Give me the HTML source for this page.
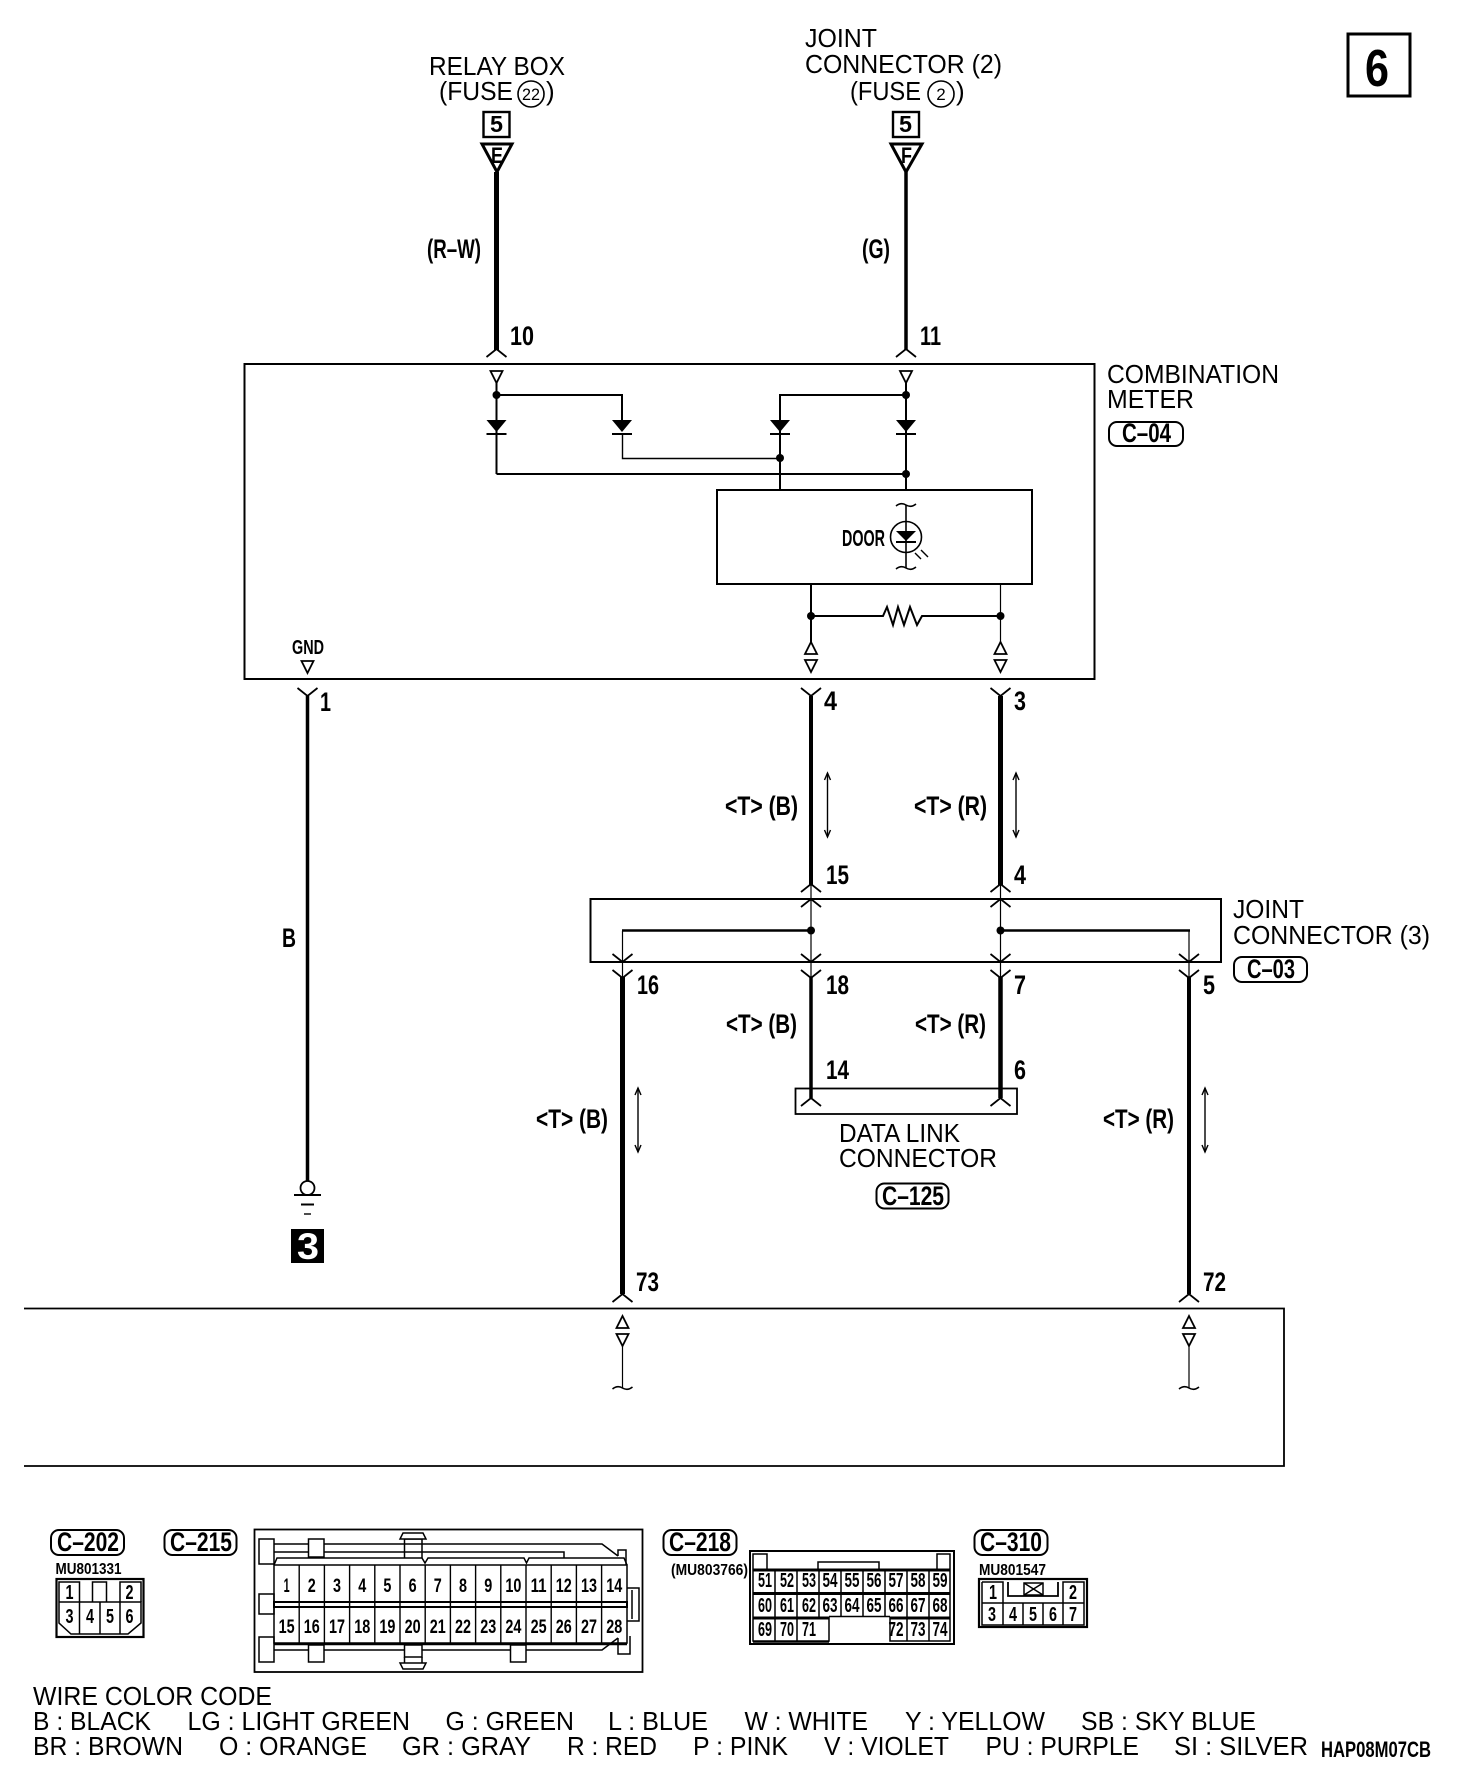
<!DOCTYPE html>
<html><head><meta charset="utf-8"><title>Diagram</title>
<style>
html,body{margin:0;padding:0;background:#fff}
svg{display:block}
text{fill:#000;font-family:"Liberation Sans",sans-serif}
.r{font-size:26px}
.b{font-size:27px;font-weight:bold}
.s{font-size:16px;font-weight:bold}
.n{font-size:19px;font-weight:bold;text-anchor:middle}
.m{font-size:20px;font-weight:bold;text-anchor:middle}
.l{fill:none;stroke:#000}
</style></head><body>
<svg xmlns="http://www.w3.org/2000/svg" width="1472" height="1782" viewBox="0 0 1472 1782">
<defs>
<polyline id="fu" points="-10,8 0,0 10,8" fill="none" stroke="#000" stroke-width="1.8"/>
<polyline id="fd" points="-10,0 0,8 10,0" fill="none" stroke="#000" stroke-width="1.8"/>
<polygon id="td" points="-6,0 6,0 0,12" fill="#fff" stroke="#000" stroke-width="1.8"/>
<polygon id="tu" points="-6,12 6,12 0,0" fill="#fff" stroke="#000" stroke-width="1.8"/>
<g id="dio"><polygon points="-10,0 10,0 0,12" fill="#000"/><rect x="-10" y="13" width="20" height="2" fill="#000"/></g>
<g id="arr" fill="none" stroke="#000" stroke-width="1.4"><line x1="0" y1="0" x2="0" y2="64"/><polyline points="-3,7 0,0 3,7"/><polyline points="-3,57 0,64 3,57"/></g>
<path id="tl" d="M-10,1 Q-5,-3 0,0 T10,-1" fill="none" stroke="#000" stroke-width="1.6"/>
</defs>

<!-- page number -->
<rect x="1348" y="34" width="62" height="62" fill="#fff" stroke="#000" stroke-width="3"/>
<text x="1365" y="86" font-size="52" font-weight="bold" textLength="24" lengthAdjust="spacingAndGlyphs">6</text>

<!-- top labels -->
<text class="r" x="429" y="75" textLength="136" lengthAdjust="spacingAndGlyphs">RELAY BOX</text>
<text class="r" x="439" y="100" textLength="74" lengthAdjust="spacingAndGlyphs">(FUSE</text>
<circle cx="531" cy="94" r="13" class="l" stroke-width="1.6"/>
<text x="531" y="100" font-size="17" text-anchor="middle" textLength="18" lengthAdjust="spacingAndGlyphs">22</text>
<text class="r" x="546" y="100">)</text>
<text class="r" x="805" y="47" textLength="72" lengthAdjust="spacingAndGlyphs">JOINT</text>
<text class="r" x="805" y="73" textLength="197" lengthAdjust="spacingAndGlyphs">CONNECTOR (2)</text>
<text class="r" x="850" y="100" textLength="71" lengthAdjust="spacingAndGlyphs">(FUSE</text>
<circle cx="941" cy="94" r="13" class="l" stroke-width="1.6"/>
<text x="941" y="100" font-size="17" text-anchor="middle">2</text>
<text class="r" x="956" y="100">)</text>

<!-- fuse markers -->
<rect x="483.5" y="112" width="26" height="25" class="l" stroke-width="2.4"/>
<text x="490" y="132" font-size="23" font-weight="bold" textLength="13" lengthAdjust="spacingAndGlyphs">5</text>
<rect x="893" y="112" width="26" height="25" class="l" stroke-width="2.4"/>
<text x="899" y="132" font-size="23" font-weight="bold" textLength="13" lengthAdjust="spacingAndGlyphs">5</text>
<polygon points="482,144 512,144 497,172" fill="#fff" stroke="#000" stroke-width="3"/>
<polygon points="891,144 922,144 906,172" fill="#fff" stroke="#000" stroke-width="3"/>
<text x="491" y="163" font-size="22" font-weight="bold" textLength="12" lengthAdjust="spacingAndGlyphs">E</text>
<text x="901" y="163" font-size="22" font-weight="bold" textLength="11" lengthAdjust="spacingAndGlyphs">F</text>

<!-- top wires -->
<line x1="496.5" y1="172" x2="496.5" y2="350" class="l" stroke-width="5"/>
<line x1="906" y1="172" x2="906" y2="350" class="l" stroke-width="3.5"/>
<use href="#fu" x="496.5" y="349"/><use href="#fu" x="906" y="349"/>
<text class="b" x="427" y="258" textLength="54" lengthAdjust="spacingAndGlyphs">(R–W)</text>
<text class="b" x="862" y="258" textLength="28" lengthAdjust="spacingAndGlyphs">(G)</text>
<text class="b" x="510" y="345" textLength="24" lengthAdjust="spacingAndGlyphs">10</text>
<text class="b" x="920" y="345" textLength="21" lengthAdjust="spacingAndGlyphs">11</text>

<!-- combination meter -->
<rect x="244.5" y="364" width="850" height="315" class="l" stroke-width="2"/>
<text class="r" x="1107" y="383" textLength="172" lengthAdjust="spacingAndGlyphs">COMBINATION</text>
<text class="r" x="1107" y="408" textLength="87" lengthAdjust="spacingAndGlyphs">METER</text>
<rect x="1109" y="422" width="74" height="24" rx="8" class="l" stroke-width="2"/>
<text class="b" x="1122" y="442" textLength="49" lengthAdjust="spacingAndGlyphs">C–04</text>

<use href="#td" x="496.5" y="371"/><use href="#td" x="906" y="371"/>
<g class="l" stroke-width="2">
<line x1="496.5" y1="383" x2="496.5" y2="474"/>
<polyline points="496.5,395 622,395 622,424"/>
<polyline points="622.5,434 622.5,458.5 780,458.5" stroke-width="1.4"/>
<polyline points="906,395 780,395 780,490"/>
<line x1="906" y1="383" x2="906" y2="490"/>
<line x1="496.5" y1="474" x2="906" y2="474"/>
</g>
<use href="#dio" x="496.5" y="420"/><use href="#dio" x="622" y="420"/><use href="#dio" x="780" y="420"/><use href="#dio" x="906" y="420"/>
<circle cx="496.5" cy="395" r="4"/><circle cx="906" cy="395" r="4"/><circle cx="780" cy="458" r="4"/><circle cx="906" cy="474" r="4"/>

<rect x="717" y="490" width="315" height="94" fill="#fff" stroke="#000" stroke-width="2"/>
<line x1="906" y1="505" x2="906" y2="568" class="l" stroke-width="1.6"/>
<use href="#tl" x="906" y="505"/><use href="#tl" x="906" y="568"/>
<circle cx="906" cy="537" r="15.5" fill="#fff" stroke="#000" stroke-width="1.6"/>
<line x1="906" y1="522" x2="906" y2="552" class="l" stroke-width="1.6"/>
<polygon points="896,531 916,531 906,541" fill="#000"/><rect x="896" y="541" width="20" height="2"/>
<g class="l" stroke-width="1.4"><line x1="915" y1="553" x2="921" y2="559"/><line x1="921" y1="550" x2="928" y2="557"/></g>
<text x="842" y="546" font-size="23" font-weight="bold" textLength="43" lengthAdjust="spacingAndGlyphs">DOOR</text>

<g class="l">
<line x1="811" y1="584" x2="811" y2="642" stroke-width="2"/>
<line x1="1000.5" y1="584" x2="1000.5" y2="642" stroke-width="1.2"/>
<polyline stroke-width="2" points="811,616 883,616 887,607 893,625 898,607 904,625 910,607 917,625 922,616 1000,616"/>
</g>
<circle cx="811" cy="616" r="4"/><circle cx="1000.5" cy="616" r="4"/>
<use href="#tu" x="811" y="642"/><use href="#td" x="811" y="660"/>
<use href="#tu" x="1000.5" y="642"/><use href="#td" x="1000.5" y="660"/>

<text x="292" y="654" font-size="20" font-weight="bold" textLength="32" lengthAdjust="spacingAndGlyphs">GND</text>
<use href="#td" x="307.5" y="661"/>

<!-- ground wire -->
<use href="#fd" x="307.5" y="688"/>
<line x1="307.5" y1="696" x2="307.5" y2="1181" class="l" stroke-width="3.5"/>
<text class="b" x="320" y="711" textLength="11" lengthAdjust="spacingAndGlyphs">1</text>
<text class="b" x="282" y="947" textLength="14" lengthAdjust="spacingAndGlyphs">B</text>
<circle cx="307.5" cy="1188" r="7" fill="#fff" stroke="#000" stroke-width="1.8"/>
<line x1="294" y1="1195" x2="321" y2="1195" class="l" stroke-width="2"/>
<line x1="301" y1="1204.5" x2="314" y2="1204.5" class="l" stroke-width="2"/>
<line x1="304" y1="1214" x2="311" y2="1214" class="l" stroke-width="1.4"/>
<rect x="291" y="1229" width="33" height="34" fill="#000"/>
<text x="297" y="1259" font-size="37" style="fill:#fff" font-weight="bold" textLength="22" lengthAdjust="spacingAndGlyphs">3</text>

<!-- wires 4 / 3 -->
<use href="#fd" x="811" y="688"/><use href="#fd" x="1000.5" y="688"/>
<line x1="811" y1="696" x2="811" y2="885" class="l" stroke-width="4"/>
<line x1="1000.5" y1="696" x2="1000.5" y2="885" class="l" stroke-width="5"/>
<text class="b" x="824" y="710" textLength="13" lengthAdjust="spacingAndGlyphs">4</text>
<text class="b" x="1014" y="710" textLength="12" lengthAdjust="spacingAndGlyphs">3</text>
<use href="#arr" x="827.5" y="773"/><use href="#arr" x="1016" y="773"/>
<text class="b" x="725" y="815" textLength="73" lengthAdjust="spacingAndGlyphs">&lt;T&gt; (B)</text>
<text class="b" x="914" y="815" textLength="73" lengthAdjust="spacingAndGlyphs">&lt;T&gt; (R)</text>
<text class="b" x="826" y="884" textLength="23" lengthAdjust="spacingAndGlyphs">15</text>
<text class="b" x="1014" y="884" textLength="12" lengthAdjust="spacingAndGlyphs">4</text>

<!-- joint connector 3 -->
<rect x="590.5" y="899" width="630.5" height="63" class="l" stroke-width="2"/>
<text class="r" x="1233" y="918" textLength="71" lengthAdjust="spacingAndGlyphs">JOINT</text>
<text class="r" x="1233" y="944" textLength="197" lengthAdjust="spacingAndGlyphs">CONNECTOR (3)</text>
<rect x="1234" y="957" width="73" height="25" rx="8" class="l" stroke-width="2"/>
<text class="b" x="1247" y="978" textLength="48" lengthAdjust="spacingAndGlyphs">C–03</text>
<use href="#fu" x="811" y="884"/><use href="#fu" x="1000.5" y="884"/>
<use href="#fu" x="811" y="899"/><use href="#fu" x="1000.5" y="899"/>
<g class="l" stroke-width="1.2">
<line x1="811" y1="884" x2="811" y2="977"/><line x1="1000.5" y1="884" x2="1000.5" y2="977"/>
<line x1="622.5" y1="931" x2="622.5" y2="977"/><line x1="1189" y1="931" x2="1189" y2="977"/>
</g>
<line x1="622" y1="930.5" x2="811" y2="930.5" class="l" stroke-width="2.4"/>
<line x1="1000" y1="930.5" x2="1190" y2="930.5" class="l" stroke-width="2.4"/>
<circle cx="811" cy="930.5" r="4"/><circle cx="1000.5" cy="930.5" r="4"/>
<use href="#fd" x="622.5" y="954"/><use href="#fd" x="811" y="954"/><use href="#fd" x="1000.5" y="954"/><use href="#fd" x="1189" y="954"/>
<use href="#fd" x="622.5" y="970"/><use href="#fd" x="811" y="970"/><use href="#fd" x="1000.5" y="970"/><use href="#fd" x="1189" y="970"/>

<line x1="622.5" y1="977" x2="622.5" y2="1294" class="l" stroke-width="5"/>
<line x1="811" y1="977" x2="811" y2="1098" class="l" stroke-width="3.5"/>
<line x1="1000.5" y1="977" x2="1000.5" y2="1098" class="l" stroke-width="4.5"/>
<line x1="1189" y1="977" x2="1189" y2="1294" class="l" stroke-width="4"/>
<text class="b" x="637" y="994" textLength="22" lengthAdjust="spacingAndGlyphs">16</text>
<text class="b" x="826" y="994" textLength="23" lengthAdjust="spacingAndGlyphs">18</text>
<text class="b" x="1014" y="994" textLength="12" lengthAdjust="spacingAndGlyphs">7</text>
<text class="b" x="1203" y="994" textLength="12" lengthAdjust="spacingAndGlyphs">5</text>
<text class="b" x="726" y="1033" textLength="71" lengthAdjust="spacingAndGlyphs">&lt;T&gt; (B)</text>
<text class="b" x="915" y="1033" textLength="71" lengthAdjust="spacingAndGlyphs">&lt;T&gt; (R)</text>
<text class="b" x="826" y="1079" textLength="23" lengthAdjust="spacingAndGlyphs">14</text>
<text class="b" x="1014" y="1079" textLength="12" lengthAdjust="spacingAndGlyphs">6</text>

<!-- data link connector -->
<rect x="795.5" y="1088.5" width="221.5" height="25.5" class="l" stroke-width="1.8"/>
<use href="#fu" x="811" y="1098"/><use href="#fu" x="1000.5" y="1098"/>
<text class="r" x="839" y="1142" textLength="121" lengthAdjust="spacingAndGlyphs">DATA LINK</text>
<text class="r" x="839" y="1167" textLength="158" lengthAdjust="spacingAndGlyphs">CONNECTOR</text>
<rect x="876.5" y="1183.5" width="72" height="25" rx="8" class="l" stroke-width="2"/>
<text class="b" x="882" y="1205" textLength="62" lengthAdjust="spacingAndGlyphs">C–125</text>

<use href="#arr" x="638" y="1088"/><use href="#arr" x="1205" y="1088"/>
<text class="b" x="536" y="1128" textLength="72" lengthAdjust="spacingAndGlyphs">&lt;T&gt; (B)</text>
<text class="b" x="1103" y="1128" textLength="71" lengthAdjust="spacingAndGlyphs">&lt;T&gt; (R)</text>
<text class="b" x="636" y="1291" textLength="23" lengthAdjust="spacingAndGlyphs">73</text>
<text class="b" x="1203" y="1291" textLength="23" lengthAdjust="spacingAndGlyphs">72</text>
<use href="#fu" x="622.5" y="1294"/><use href="#fu" x="1189" y="1294"/>

<!-- ECU box -->
<polyline points="24,1308.5 1284,1308.5 1284,1466 24,1466" class="l" stroke-width="1.8"/>
<use href="#tu" x="622.5" y="1316"/><use href="#td" x="622.5" y="1334"/>
<use href="#tu" x="1189" y="1316"/><use href="#td" x="1189" y="1334"/>
<line x1="622.5" y1="1346" x2="622.5" y2="1388" class="l" stroke-width="1.2"/>
<line x1="1189" y1="1346" x2="1189" y2="1388" class="l" stroke-width="1.2"/>
<use href="#tl" x="622.5" y="1388"/><use href="#tl" x="1189" y="1388"/>

<!-- pills -->
<rect x="51" y="1530" width="73" height="25" rx="8" class="l" stroke-width="2"/>
<text class="b" x="57" y="1551" textLength="62" lengthAdjust="spacingAndGlyphs">C–202</text>
<rect x="164.5" y="1530" width="72" height="25" rx="8" class="l" stroke-width="2"/>
<text class="b" x="170" y="1551" textLength="62" lengthAdjust="spacingAndGlyphs">C–215</text>
<rect x="663.5" y="1530" width="73" height="25" rx="8" class="l" stroke-width="2"/>
<text class="b" x="669" y="1551" textLength="62" lengthAdjust="spacingAndGlyphs">C–218</text>
<rect x="974.5" y="1530" width="73" height="25" rx="8" class="l" stroke-width="2"/>
<text class="b" x="980" y="1551" textLength="62" lengthAdjust="spacingAndGlyphs">C–310</text>
<text class="s" x="55.5" y="1574" textLength="66" lengthAdjust="spacingAndGlyphs">MU801331</text>
<text class="s" x="671" y="1575" textLength="77" lengthAdjust="spacingAndGlyphs">(MU803766)</text>
<text class="s" x="979" y="1575" textLength="67" lengthAdjust="spacingAndGlyphs">MU801547</text>

<!-- C-202 -->
<rect x="56.5" y="1579" width="87" height="58" class="l" stroke-width="2.2"/>
<g class="l" stroke-width="1.5">
<polyline points="59,1602 59,1582 79.5,1582 79.5,1602"/>
<polyline points="92.5,1602 92.5,1582 106.5,1582 106.5,1602"/>
<polyline points="120,1602 120,1582 141,1582 141,1602"/>
<polyline points="59,1602 141,1602 141,1623 128,1634 71,1634 59,1623 59,1602"/>
<line x1="79.5" y1="1602" x2="79.5" y2="1634"/><line x1="100" y1="1602" x2="100" y2="1634"/><line x1="120" y1="1602" x2="120" y2="1634"/>
</g>
<text class="m" x="69.5" y="1599" textLength="8" lengthAdjust="spacingAndGlyphs">1</text>
<text class="m" x="129.5" y="1599" textLength="8" lengthAdjust="spacingAndGlyphs">2</text>
<text class="m" x="69.5" y="1623" textLength="8" lengthAdjust="spacingAndGlyphs">3</text>
<text class="m" x="90" y="1623" textLength="8" lengthAdjust="spacingAndGlyphs">4</text>
<text class="m" x="110" y="1623" textLength="8" lengthAdjust="spacingAndGlyphs">5</text>
<text class="m" x="129.5" y="1623" textLength="8" lengthAdjust="spacingAndGlyphs">6</text>

<!-- C-215 -->
<rect x="254.5" y="1529.5" width="388" height="142.5" class="l" stroke-width="1.8"/>
<g class="l" stroke-width="1.5">
<rect x="259" y="1539" width="15" height="25"/><rect x="259" y="1594" width="15" height="20"/><rect x="259" y="1637" width="15" height="25"/>
<polyline points="274,1544 602,1544 618,1556"/>
<polyline points="274,1552 564,1552 564,1558"/>
<polyline points="274,1565 277,1558 422,1558 425,1563 428,1558 524,1558 526.5,1563 529,1558 624,1558 627,1565"/>
<rect x="308.5" y="1539" width="15.5" height="18" fill="#fff"/>
<polyline points="404.5,1558 404.5,1539 422,1539 422,1558"/>
<polygon points="403,1533 423,1533 426,1539 400,1539" fill="#fff"/>
<polyline points="618,1556 618,1550 626,1550 626,1565"/>
<polyline points="627,1588 639,1588 639,1621 627,1621"/><line x1="632" y1="1590" x2="632" y2="1619"/>
<line x1="274" y1="1644" x2="627" y2="1644" stroke-width="2.4"/>
<polyline points="274,1650 602,1650 618,1638"/>
<polyline points="618,1638 618,1654 630,1654 630,1636"/>
<rect x="308.5" y="1645" width="15.5" height="17" fill="#fff"/>
<rect x="510.5" y="1645" width="15.5" height="17" fill="#fff"/>
<rect x="404.5" y="1645" width="17.5" height="12" fill="#fff"/>
<polygon points="400,1663 426,1663 423,1669 403,1669" fill="#fff"/>
<line x1="404.5" y1="1657" x2="404.5" y2="1663"/><line x1="422" y1="1657" x2="422" y2="1663"/>
</g>
<rect x="274" y="1565" width="353" height="78" class="l" stroke-width="1.5"/>
<rect x="274" y="1602" width="353" height="5" fill="#fff" stroke="#000" stroke-width="2"/>
<g class="l" stroke-width="1.4">
<path d="M299.2,1565V1643M324.4,1565V1643M349.6,1565V1643M374.8,1565V1643M400,1565V1643M425.2,1565V1643M450.4,1565V1643M475.6,1565V1643M500.8,1565V1643M526,1565V1643M551.2,1565V1643M576.4,1565V1643M601.6,1565V1643"/>
</g>
<text class="n" x="286.6" y="1592" textLength="6" lengthAdjust="spacingAndGlyphs">1</text>
<text class="n" x="311.8" y="1592" textLength="8" lengthAdjust="spacingAndGlyphs">2</text>
<text class="n" x="337" y="1592" textLength="8" lengthAdjust="spacingAndGlyphs">3</text>
<text class="n" x="362.2" y="1592" textLength="8" lengthAdjust="spacingAndGlyphs">4</text>
<text class="n" x="387.4" y="1592" textLength="8" lengthAdjust="spacingAndGlyphs">5</text>
<text class="n" x="412.6" y="1592" textLength="8" lengthAdjust="spacingAndGlyphs">6</text>
<text class="n" x="437.8" y="1592" textLength="8" lengthAdjust="spacingAndGlyphs">7</text>
<text class="n" x="463" y="1592" textLength="8" lengthAdjust="spacingAndGlyphs">8</text>
<text class="n" x="488.2" y="1592" textLength="8" lengthAdjust="spacingAndGlyphs">9</text>
<text class="n" x="513.4" y="1592" textLength="16" lengthAdjust="spacingAndGlyphs">10</text>
<text class="n" x="538.6" y="1592" textLength="16" lengthAdjust="spacingAndGlyphs">11</text>
<text class="n" x="563.8" y="1592" textLength="16" lengthAdjust="spacingAndGlyphs">12</text>
<text class="n" x="589" y="1592" textLength="16" lengthAdjust="spacingAndGlyphs">13</text>
<text class="n" x="614.2" y="1592" textLength="16" lengthAdjust="spacingAndGlyphs">14</text>
<text class="n" x="286.6" y="1633" textLength="16" lengthAdjust="spacingAndGlyphs">15</text>
<text class="n" x="311.8" y="1633" textLength="16" lengthAdjust="spacingAndGlyphs">16</text>
<text class="n" x="337" y="1633" textLength="16" lengthAdjust="spacingAndGlyphs">17</text>
<text class="n" x="362.2" y="1633" textLength="16" lengthAdjust="spacingAndGlyphs">18</text>
<text class="n" x="387.4" y="1633" textLength="16" lengthAdjust="spacingAndGlyphs">19</text>
<text class="n" x="412.6" y="1633" textLength="16" lengthAdjust="spacingAndGlyphs">20</text>
<text class="n" x="437.8" y="1633" textLength="16" lengthAdjust="spacingAndGlyphs">21</text>
<text class="n" x="463" y="1633" textLength="16" lengthAdjust="spacingAndGlyphs">22</text>
<text class="n" x="488.2" y="1633" textLength="16" lengthAdjust="spacingAndGlyphs">23</text>
<text class="n" x="513.4" y="1633" textLength="16" lengthAdjust="spacingAndGlyphs">24</text>
<text class="n" x="538.6" y="1633" textLength="16" lengthAdjust="spacingAndGlyphs">25</text>
<text class="n" x="563.8" y="1633" textLength="16" lengthAdjust="spacingAndGlyphs">26</text>
<text class="n" x="589" y="1633" textLength="16" lengthAdjust="spacingAndGlyphs">27</text>
<text class="n" x="614.2" y="1633" textLength="16" lengthAdjust="spacingAndGlyphs">28</text>

<!-- C-218 -->
<rect x="750" y="1551" width="204" height="93" class="l" stroke-width="2"/>
<g class="l" stroke-width="1.5">
<polyline points="753,1569 753,1554 767,1554 767,1569"/>
<polyline points="937,1569 937,1554 950,1554 950,1569"/>
<polyline points="818,1569 818,1562 879,1562 879,1569"/>
<path d="M753,1569V1641H829V1617M890,1617V1641H950V1569M775,1569V1641M797,1569V1641M819,1569V1617M841,1569V1616M863,1569V1616M885,1569V1617M907,1569V1641M929,1569V1641"/>
<line x1="753" y1="1642" x2="829" y2="1642"/><line x1="829" y1="1616.5" x2="890" y2="1616.5"/>
</g>
<g stroke="#000" stroke-width="3" fill="none">
<line x1="753" y1="1570" x2="950" y2="1570"/>
<line x1="753" y1="1593.5" x2="950" y2="1593.5"/>
<line x1="753" y1="1618" x2="829" y2="1618"/><line x1="890" y1="1618" x2="950" y2="1618"/>
</g>
<text class="m" x="765" y="1587" textLength="14" lengthAdjust="spacingAndGlyphs">51</text>
<text class="m" x="787" y="1587" textLength="14" lengthAdjust="spacingAndGlyphs">52</text>
<text class="m" x="809" y="1587" textLength="14" lengthAdjust="spacingAndGlyphs">53</text>
<text class="m" x="830" y="1587" textLength="15" lengthAdjust="spacingAndGlyphs">54</text>
<text class="m" x="852" y="1587" textLength="15" lengthAdjust="spacingAndGlyphs">55</text>
<text class="m" x="874" y="1587" textLength="15" lengthAdjust="spacingAndGlyphs">56</text>
<text class="m" x="896" y="1587" textLength="15" lengthAdjust="spacingAndGlyphs">57</text>
<text class="m" x="918" y="1587" textLength="15" lengthAdjust="spacingAndGlyphs">58</text>
<text class="m" x="940" y="1587" textLength="15" lengthAdjust="spacingAndGlyphs">59</text>
<text class="m" x="765" y="1612" textLength="14" lengthAdjust="spacingAndGlyphs">60</text>
<text class="m" x="787" y="1612" textLength="14" lengthAdjust="spacingAndGlyphs">61</text>
<text class="m" x="809" y="1612" textLength="14" lengthAdjust="spacingAndGlyphs">62</text>
<text class="m" x="830" y="1612" textLength="15" lengthAdjust="spacingAndGlyphs">63</text>
<text class="m" x="852" y="1612" textLength="15" lengthAdjust="spacingAndGlyphs">64</text>
<text class="m" x="874" y="1612" textLength="15" lengthAdjust="spacingAndGlyphs">65</text>
<text class="m" x="896" y="1612" textLength="15" lengthAdjust="spacingAndGlyphs">66</text>
<text class="m" x="918" y="1612" textLength="15" lengthAdjust="spacingAndGlyphs">67</text>
<text class="m" x="940" y="1612" textLength="15" lengthAdjust="spacingAndGlyphs">68</text>
<text class="m" x="765" y="1636" textLength="14" lengthAdjust="spacingAndGlyphs">69</text>
<text class="m" x="787" y="1636" textLength="14" lengthAdjust="spacingAndGlyphs">70</text>
<text class="m" x="809" y="1636" textLength="14" lengthAdjust="spacingAndGlyphs">71</text>
<text class="m" x="896" y="1636" textLength="15" lengthAdjust="spacingAndGlyphs">72</text>
<text class="m" x="918" y="1636" textLength="15" lengthAdjust="spacingAndGlyphs">73</text>
<text class="m" x="940" y="1636" textLength="15" lengthAdjust="spacingAndGlyphs">74</text>

<!-- C-310 -->
<rect x="979" y="1579" width="108" height="48" class="l" stroke-width="2.2"/>
<g class="l" stroke-width="1.5">
<path d="M982,1582H1003V1603M1063,1603V1582H1084V1625H982V1582M982,1603H1084M1003,1603V1625M1023,1603V1625M1043,1603V1625M1063,1603V1625"/>
<polyline points="1008,1582 1008,1596 1058,1596 1058,1582" stroke-width="1.8"/>
<rect x="1024" y="1583" width="19" height="12"/><path d="M1024,1583L1043,1595M1043,1583L1024,1595"/>
</g>
<text class="m" x="993" y="1599" textLength="8" lengthAdjust="spacingAndGlyphs">1</text>
<text class="m" x="1073" y="1599" textLength="8" lengthAdjust="spacingAndGlyphs">2</text>
<text class="m" x="992" y="1621" textLength="8" lengthAdjust="spacingAndGlyphs">3</text>
<text class="m" x="1013" y="1621" textLength="8" lengthAdjust="spacingAndGlyphs">4</text>
<text class="m" x="1033" y="1621" textLength="8" lengthAdjust="spacingAndGlyphs">5</text>
<text class="m" x="1053" y="1621" textLength="8" lengthAdjust="spacingAndGlyphs">6</text>
<text class="m" x="1073" y="1621" textLength="8" lengthAdjust="spacingAndGlyphs">7</text>

<!-- wire color code -->
<text class="r" x="33" y="1705" textLength="239" lengthAdjust="spacingAndGlyphs">WIRE COLOR CODE</text>
<text class="r" x="33" y="1730" textLength="118" lengthAdjust="spacingAndGlyphs">B : BLACK</text>
<text class="r" x="187.5" y="1730" textLength="222.5" lengthAdjust="spacingAndGlyphs">LG : LIGHT GREEN</text>
<text class="r" x="445.5" y="1730" textLength="128.5" lengthAdjust="spacingAndGlyphs">G : GREEN</text>
<text class="r" x="608" y="1730" textLength="100" lengthAdjust="spacingAndGlyphs">L : BLUE</text>
<text class="r" x="744.5" y="1730" textLength="123.5" lengthAdjust="spacingAndGlyphs">W : WHITE</text>
<text class="r" x="905" y="1730" textLength="140" lengthAdjust="spacingAndGlyphs">Y : YELLOW</text>
<text class="r" x="1081" y="1730" textLength="175" lengthAdjust="spacingAndGlyphs">SB : SKY BLUE</text>
<text class="r" x="33" y="1755" textLength="150" lengthAdjust="spacingAndGlyphs">BR : BROWN</text>
<text class="r" x="219" y="1755" textLength="148" lengthAdjust="spacingAndGlyphs">O : ORANGE</text>
<text class="r" x="402" y="1755" textLength="129" lengthAdjust="spacingAndGlyphs">GR : GRAY</text>
<text class="r" x="567" y="1755" textLength="90" lengthAdjust="spacingAndGlyphs">R : RED</text>
<text class="r" x="693" y="1755" textLength="95" lengthAdjust="spacingAndGlyphs">P : PINK</text>
<text class="r" x="824" y="1755" textLength="125" lengthAdjust="spacingAndGlyphs">V : VIOLET</text>
<text class="r" x="985.5" y="1755" textLength="153.5" lengthAdjust="spacingAndGlyphs">PU : PURPLE</text>
<text class="r" x="1174" y="1755" textLength="134" lengthAdjust="spacingAndGlyphs">SI : SILVER</text>
<text x="1321" y="1757" font-size="22" font-weight="bold" textLength="110" lengthAdjust="spacingAndGlyphs">HAP08M07CB</text>
</svg>
</body></html>
